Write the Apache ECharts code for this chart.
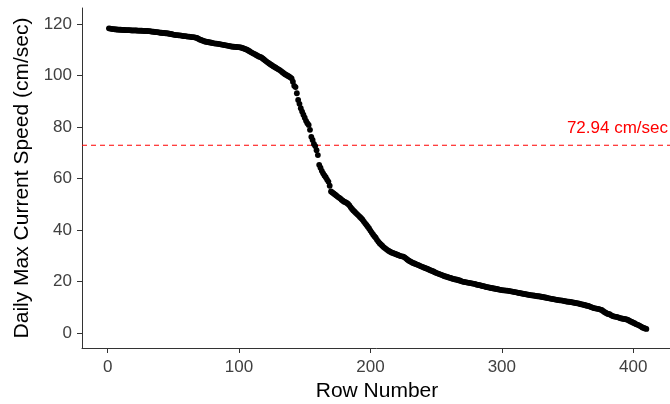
<!DOCTYPE html>
<html>
<head>
<meta charset="utf-8">
<script src="https://cdn.jsdelivr.net/npm/echarts@6/dist/echarts.min.js"></script>
<style>
html,body{margin:0;padding:0;background:#fff;}
#chart{width:670px;height:404px;}
</style>
</head>
<body>
<div id="chart"></div>
<script>
// Daily max current speed, sorted descending, rows 1..410
const speeds = [
118.3,118.2,118.1,118.0,118.0,117.9,117.9,117.8,117.8,117.8,
117.7,117.7,117.7,117.6,117.6,117.6,117.6,117.5,117.5,117.5,
117.5,117.5,117.4,117.4,117.4,117.4,117.3,117.3,117.3,117.3,
117.2,117.2,117.1,117.0,117.0,116.9,116.8,116.8,116.7,116.6,
116.6,116.5,116.5,116.4,116.4,116.3,116.2,116.1,116.0,115.9,
115.8,115.7,115.7,115.6,115.6,115.5,115.4,115.3,115.3,115.2,
115.1,115.1,115.0,114.9,114.9,114.8,114.7,114.6,114.3,114.0,
113.8,113.6,113.4,113.2,113.1,113.0,112.9,112.8,112.7,112.6,
112.5,112.4,112.4,112.3,112.2,112.1,112.0,111.9,111.8,111.7,
111.6,111.5,111.4,111.3,111.2,111.2,111.1,111.1,111.0,111.0,
110.9,110.8,110.6,110.4,110.2,110.0,109.7,109.4,109.1,108.8,
108.5,108.3,108.0,107.7,107.4,107.2,107.0,106.6,106.2,105.8,
105.4,105.0,104.7,104.3,104.0,103.6,103.3,103.0,102.7,102.4,
102.1,101.7,101.3,100.9,100.5,100.2,99.9,99.6,99.3,98.9,
97.6,96.0,95.5,93.1,90.5,89.0,87.3,86.0,84.8,83.6,
82.4,81.5,80.8,78.9,76.2,75.0,73.4,72.6,71.0,69.1,
65.3,64.2,63.0,62.0,61.2,60.5,59.6,58.8,57.2,55.0,
54.6,54.2,53.8,53.4,53.0,52.6,52.3,51.8,51.4,51.0,
50.8,50.5,50.1,49.6,48.8,48.2,47.6,47.1,46.6,46.1,
45.6,45.1,44.6,44.0,43.3,42.6,42.0,41.3,40.6,39.8,
39.0,38.3,37.6,37.0,36.2,35.5,34.9,34.4,33.9,33.4,
33.0,32.6,32.2,31.9,31.6,31.3,31.1,30.9,30.7,30.5,
30.3,30.1,29.9,29.8,29.7,29.4,29.0,28.6,28.2,27.9,
27.6,27.3,27.1,26.9,26.7,26.5,26.3,26.0,25.8,25.6,
25.4,25.2,25.0,24.8,24.5,24.3,24.1,23.9,23.6,23.4,
23.2,23.0,22.8,22.6,22.4,22.2,22.0,21.9,21.7,21.5,
21.4,21.2,21.0,20.9,20.8,20.7,20.5,20.4,20.2,20.0,
19.9,19.8,19.7,19.6,19.5,19.4,19.3,19.2,19.1,19.0,
18.8,18.7,18.6,18.5,18.3,18.2,18.1,17.9,17.8,17.7,
17.6,17.5,17.4,17.3,17.2,17.1,17.0,16.9,16.8,16.7,
16.6,16.6,16.5,16.5,16.4,16.3,16.2,16.1,16.0,15.9,
15.8,15.7,15.6,15.5,15.4,15.3,15.2,15.1,15.0,14.9,
14.8,14.7,14.6,14.6,14.5,14.4,14.3,14.3,14.2,14.1,
14.0,13.9,13.8,13.7,13.6,13.5,13.4,13.3,13.2,13.1,
13.0,12.9,12.8,12.7,12.7,12.6,12.5,12.4,12.3,12.2,
12.2,12.1,12.0,11.9,11.8,11.7,11.6,11.5,11.4,11.2,
11.1,11.0,10.9,10.7,10.6,10.5,10.3,10.1,9.9,9.7,
9.6,9.5,9.4,9.3,9.1,9.0,8.6,8.2,7.9,7.6,
7.4,7.3,7.0,6.7,6.5,6.4,6.3,6.2,6.0,5.8,
5.7,5.6,5.5,5.4,5.3,5.1,4.8,4.5,4.3,4.0,
3.8,3.5,3.3,3.1,2.8,2.5,2.2,2.0,1.8,1.6
];
const xTicks = [0, 100, 200, 300, 400];
const yTicks = [0, 20, 40, 60, 80, 100, 120];
const xRange = [-19.5, 429.5];
const yRange = [-5.8, 126.2];
const thresholdValue = 72.94;
const thresholdLabel = '72.94 cm/sec';
const labelAnchor = [388, 79.5];
const xTitle = 'Row Number';
const yTitle = 'Daily Max Current Speed (cm/sec)';

const points = speeds.map((v, i) => [i + 1, v]);
const FONT = "'Liberation Sans', Arial, sans-serif";
const RED_LINE = '#FF0000';

const chart = echarts.init(document.getElementById('chart'), null, {renderer: 'canvas'});
chart.setOption({
  animation: false,
  backgroundColor: '#ffffff',
  grid: {left: 82, top: 8, width: 590, height: 340, containLabel: false, outerBoundsMode: 'none'},
  xAxis: {
    type: 'value', min: xRange[0], max: xRange[1],
    name: xTitle, nameLocation: 'middle', nameGap: 33,
    nameTextStyle: {fontFamily: FONT, fontSize: 21, color: '#000'},
    axisLine: {show: true, onZero: false, lineStyle: {color: '#333', width: 1}},
    axisTick: {show: true, length: 5, lineStyle: {color: '#333'}, customValues: xTicks},
    axisLabel: {fontFamily: FONT, fontSize: 17, color: '#404040', margin: 11, customValues: xTicks},
    splitLine: {show: false}
  },
  yAxis: {
    type: 'value', min: yRange[0], max: yRange[1],
    name: yTitle, nameLocation: 'middle', nameGap: 47,
    nameTextStyle: {fontFamily: FONT, fontSize: 21, color: '#000'},
    axisLine: {show: true, onZero: false, lineStyle: {color: '#333', width: 1}},
    axisTick: {show: true, length: 5, lineStyle: {color: '#333'}, customValues: yTicks},
    axisLabel: {fontFamily: FONT, fontSize: 17, color: '#404040', margin: 10, customValues: yTicks},
    splitLine: {show: false}
  },
  series: [
    {
      type: 'line',
      silent: true,
      data: [[xRange[0], thresholdValue], [xRange[1], thresholdValue]],
      showSymbol: false,
      symbol: 'none',
      lineStyle: {color: RED_LINE, type: [5, 4], width: 1.1},
      itemStyle: {color: RED_LINE},
      emphasis: {disabled: true},
      z: 1
    },
    {
      type: 'scatter',
      data: points,
      symbolSize: 5.8,
      itemStyle: {color: '#000', opacity: 1},
      z: 2,
      markPoint: {
        silent: true,
        symbol: 'circle',
        symbolSize: 0,
        label: {
          show: true, position: 'inside', formatter: thresholdLabel,
          fontFamily: FONT, fontSize: 17, color: '#FF0000'
        },
        data: [{coord: labelAnchor}]
      }
    }
  ]
});
</script>
</body>
</html>
